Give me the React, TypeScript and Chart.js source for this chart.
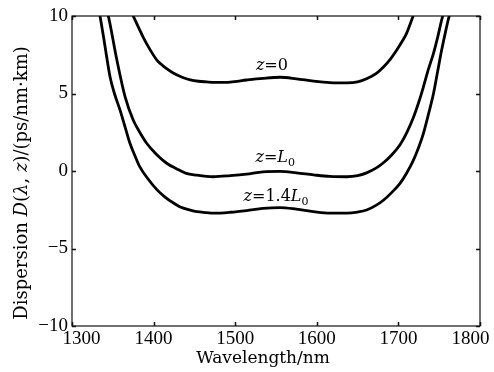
import React, { useEffect, useRef } from "react";
import { Chart, registerables } from "chart.js";

Chart.register(...registerables);

// Wavelength (nm) and dispersion (ps/nm·km)
const z0X = [1368, 1375, 1387, 1396, 1404, 1410, 1416, 1424, 1435, 1445, 1455, 1465, 1475, 1494, 1514, 1534, 1555, 1575, 1596, 1616, 1637, 1650, 1661, 1673, 1682, 1690, 1698, 1705, 1710, 1718, 1722];
const z0Y = [10.8, 10.0, 8.66, 7.8, 7.16, 6.85, 6.6, 6.32, 6.05, 5.88, 5.79, 5.75, 5.72, 5.74, 5.87, 5.98, 6.05, 5.95, 5.8, 5.7, 5.68, 5.75, 5.95, 6.3, 6.73, 7.2, 7.8, 8.4, 8.88, 10.0, 10.6];

const zL0X = [1340, 1344.5, 1355, 1365, 1375, 1383, 1391.5, 1403, 1416, 1428, 1440, 1453, 1465, 1473, 1494, 1514, 1534, 1555, 1575, 1596, 1616, 1637, 1650, 1661, 1673, 1682, 1692, 1702, 1710, 1718, 1725, 1730.5, 1737, 1743, 1748, 1753, 1757];
const zL0Y = [10.8, 10.0, 7.16, 4.8, 3.29, 2.5, 1.79, 1.1, 0.5, 0.15, -0.15, -0.27, -0.35, -0.37, -0.3, -0.2, -0.05, -0.03, -0.12, -0.25, -0.35, -0.37, -0.3, -0.12, 0.2, 0.55, 1.05, 1.7, 2.45, 3.4, 4.45, 5.4, 6.6, 7.59, 8.6, 9.74, 10.5];

const z14X = [1331, 1334.3, 1340, 1346.6, 1352, 1358.8, 1365, 1371, 1377, 1383, 1393, 1404, 1414, 1424, 1432, 1445, 1453, 1465, 1473, 1494, 1514, 1534, 1555, 1575, 1596, 1616, 1637, 1650, 1661, 1673, 1682, 1692, 1702, 1710, 1718, 1725, 1730.5, 1737, 1743, 1748, 1753, 1757, 1761, 1765];
const z14Y = [10.8, 10.0, 8.2, 6.08, 5.0, 3.94, 2.85, 1.79, 1.0, 0.28, -0.5, -1.2, -1.68, -2.05, -2.3, -2.52, -2.62, -2.68, -2.72, -2.66, -2.55, -2.41, -2.36, -2.46, -2.62, -2.72, -2.72, -2.65, -2.52, -2.2, -1.87, -1.38, -0.8, -0.15, 0.65, 1.55, 2.4, 3.7, 5.0, 6.4, 7.8, 8.8, 9.74, 10.5];

const xTicks = [1300, 1400, 1500, 1600, 1700, 1800];
const yTicks = [-10, -5, 0, 5, 10];

// Curve labels: [main text, subscript, wavelength, dispersion at baseline]
const curveLabels: [string, string, number, number][] = [
  ["=0", "", 1545, 6.52],
  ["=L", "0", 1549, 0.58],
  ["=1.4L", "0", 1550, -1.92],
];

const SERIF = "'DejaVu Serif', serif";
const TICKFONT = "'Liberation Serif', serif";
const FIG_SP = "\u2007\u2007";

const toPts = (xs: number[], ys: number[]) => xs.map((x, i) => ({ x, y: ys[i] }));

const decorPlugin = {
  id: "decor",
  afterDraw(chart: any) {
    const { ctx, chartArea: a, scales } = chart;
    const xs = scales.x;
    const ys = scales.y;
    ctx.save();
    // frame
    ctx.strokeStyle = "#111";
    ctx.lineWidth = 1.2;
    ctx.strokeRect(a.left, a.top, a.right - a.left, a.bottom - a.top);
    // inward ticks on all sides
    ctx.lineWidth = 1.5;
    const tl = 4;
    ctx.beginPath();
    xTicks.forEach((v) => {
      const p = Math.round(xs.getPixelForValue(v)) + 0.5;
      ctx.moveTo(p, a.bottom);
      ctx.lineTo(p, a.bottom - tl);
      ctx.moveTo(p, a.top);
      ctx.lineTo(p, a.top + tl);
    });
    yTicks.forEach((v) => {
      const p = Math.round(ys.getPixelForValue(v)) + 0.5;
      ctx.moveTo(a.left, p);
      ctx.lineTo(a.left + tl, p);
      ctx.moveTo(a.right, p);
      ctx.lineTo(a.right - tl, p);
    });
    ctx.stroke();

    // curve labels
    ctx.fillStyle = "#000";
    ctx.textBaseline = "alphabetic";
    const mainSize = 16;
    curveLabels.forEach(([txt, sub, wx, wy]) => {
      const parts: [string, string][] = [["z", `italic ${mainSize}px ${SERIF}`]];
      let buf = "";
      for (const ch of txt) {
        if (/[A-Za-z]/.test(ch)) {
          if (buf) parts.push([buf, `${mainSize}px ${SERIF}`]);
          buf = "";
          parts.push([ch, `italic ${mainSize}px ${SERIF}`]);
        } else buf += ch;
      }
      if (buf) parts.push([buf, `${mainSize}px ${SERIF}`]);
      const subFont = `${Math.round(mainSize * 0.7)}px ${SERIF}`;
      let total = 0;
      parts.forEach(([t, f]) => {
        ctx.font = f;
        total += ctx.measureText(t).width;
      });
      if (sub) {
        ctx.font = subFont;
        total += ctx.measureText(sub).width;
      }
      let x = xs.getPixelForValue(wx) - total / 2;
      const y = ys.getPixelForValue(wy);
      parts.forEach(([t, f]) => {
        ctx.font = f;
        ctx.fillText(t, x, y);
        x += ctx.measureText(t).width;
      });
      if (sub) {
        ctx.font = subFont;
        ctx.fillText(sub, x, y + 4);
      }
    });

    // x title
    ctx.font = `17px ${SERIF}`;
    ctx.textAlign = "center";
    ctx.textBaseline = "alphabetic";
    ctx.fillText("Wavelength/nm", 263, 363);

    // y title (rotated, mixed italic)
    const ySegs: [string, boolean][] = [
      ["Dispersion ", false],
      ["D", true],
      ["(", false],
      ["λ", true],
      [", ", false],
      ["z", true],
      [")/(ps/nm·km)", false],
    ];
    const fs = 18;
    let tw = 0;
    ySegs.forEach(([t, it]) => {
      ctx.font = `${it ? "italic " : ""}${fs}px ${SERIF}`;
      tw += ctx.measureText(t).width;
    });
    ctx.translate(22, 183);
    ctx.rotate(-Math.PI / 2);
    ctx.textAlign = "left";
    ctx.textBaseline = "middle";
    let cx = -tw / 2;
    ySegs.forEach(([t, it]) => {
      ctx.font = `${it ? "italic " : ""}${fs}px ${SERIF}`;
      ctx.fillText(t, cx, 0);
      cx += ctx.measureText(t).width;
    });
    ctx.restore();
  },
};

export default function App() {
  const ref = useRef<HTMLCanvasElement | null>(null);
  useEffect(() => {
    document.body.style.margin = "0";
    const canvas = ref.current!;
    const lineStyle = {
      borderColor: "#000",
      borderWidth: 2.8,
      pointRadius: 0,
      fill: false,
      cubicInterpolationMode: "monotone" as const,
    };
    const chart = new Chart(canvas, {
      type: "line",
      data: {
        datasets: [
          { label: "z=0", data: toPts(z0X, z0Y), ...lineStyle },
          { label: "z=L0", data: toPts(zL0X, zL0Y), ...lineStyle },
          { label: "z=1.4L0", data: toPts(z14X, z14Y), ...lineStyle },
        ],
      },
      options: {
        animation: false,
        responsive: false,
        devicePixelRatio: 1,
        layout: { padding: { top: 16, right: 14, left: 0, bottom: 0 } },
        plugins: { legend: { display: false }, tooltip: { enabled: false } },
        scales: {
          x: {
            type: "linear",
            min: 1300,
            max: 1800,
            afterBuildTicks: (s: any) => {
              s.ticks = xTicks.map((v) => ({ value: v }));
            },
            afterFit: (s: any) => {
              s.height = 46;
              s.paddingLeft = 0;
              s.paddingRight = 0;
            },
            ticks: {
              color: "#000",
              padding: 2,
              font: { family: TICKFONT, size: 19 },
              maxRotation: 0,
              autoSkip: false,
              callback: (v: any) => {
                const n = Number(v);
                if (n === xTicks[0]) return FIG_SP + String(n);
                if (n === xTicks[xTicks.length - 1]) return String(n) + FIG_SP;
                return String(n);
              },
            },
            grid: { display: false, drawTicks: false },
            border: { display: false },
          },
          y: {
            type: "linear",
            min: -10,
            max: 10,
            afterBuildTicks: (s: any) => {
              s.ticks = yTicks.map((v) => ({ value: v }));
            },
            afterFit: (s: any) => {
              s.width = 72;
              s.paddingTop = 0;
              s.paddingBottom = 0;
            },
            ticks: {
              color: "#000",
              padding: 4,
              font: { family: TICKFONT, size: 19 },
              callback: (v: any) => (Number(v) < 0 ? "\u2212" + Math.abs(Number(v)) : String(v)),
            },
            grid: { display: false, drawTicks: false },
            border: { display: false },
          },
        },
      },
      plugins: [decorPlugin],
    });
    return () => chart.destroy();
  }, []);
  return <canvas ref={ref} width={494} height={372} style={{ display: "block" }} />;
}
